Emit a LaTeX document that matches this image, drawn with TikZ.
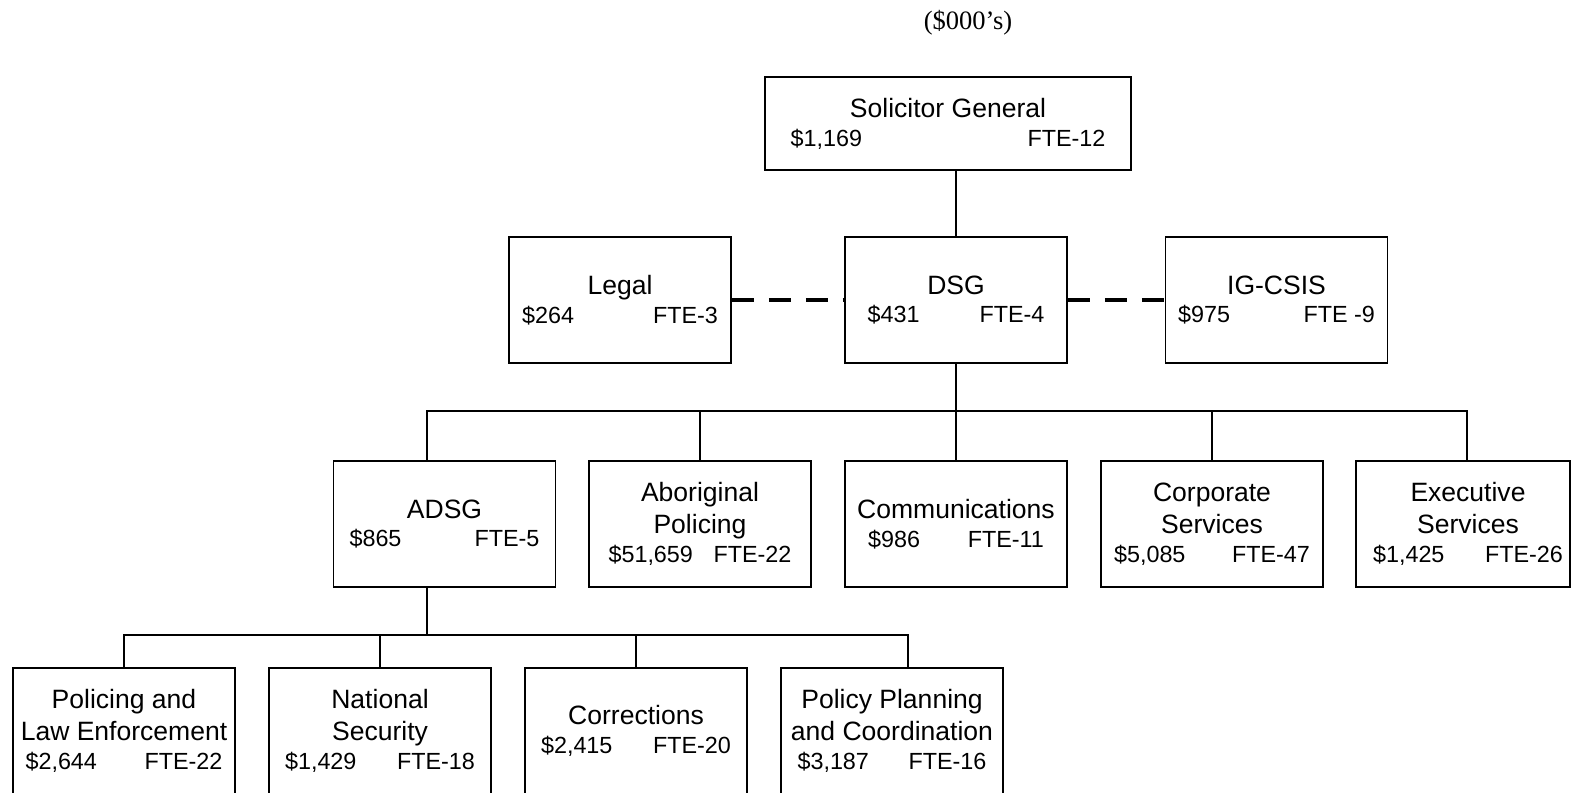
\documentclass[tikz,border=0pt]{standalone}
\usepackage{fontspec}
\setmainfont{Liberation Sans}
\newfontfamily\notefont{Liberation Serif}

\newcommand{\costline}[3]{{\fontsize{13.3}{16.4}\selectfont\makebox[#1]{#2\hfill #3}}}

\begin{document}
\begin{tikzpicture}[
  x=0.02cm, y=-0.02cm,
  box/.style={rectangle, draw, line width=1.1pt, minimum width=4.44cm, minimum height=2.52cm, inner sep=1pt, align=center, font=\fontsize{15.1}{18.1}\selectfont},
  link/.style={line width=1.1pt},
  dashlink/.style={line width=1.9pt, dash pattern=on 0.44cm off 0.3cm}
]
  \useasboundingbox (0,0) rectangle (1573,792);

  \node[font=\notefont\fontsize{15.1}{18}\selectfont] (unit) at (968,23) {(\$000’s)};

  \node[box, minimum width=7.32cm, minimum height=1.86cm] (sg) at (948,123.5) {Solicitor General\\[-1.7pt]\costline{6.3cm}{\$1,169}{FTE-12}};

  \node[box] (legal) at (620,300) {Legal\\[-1.7pt]\costline{3.92cm}{\$264}{FTE-3}};
  \node[box] (dsg) at (956,300) {DSG\\[-1.7pt]\costline{3.54cm}{\$431}{FTE-4}};
  \node[box] (igcsis) at (1276.5,300) {IG-CSIS\\[-1.7pt]\costline{3.94cm}{\$975}{FTE -9}};

  \node[box] (adsg) at (444.5,524) {ADSG\\[-1.7pt]\costline{3.8cm}{\$865}{FTE-5}};
  \node[box] (abor) at (700,524) {Aboriginal\\Policing\\[-1.7pt]\costline{3.66cm}{\$51,659}{FTE-22}};
  \node[box] (comm) at (956,524) {Communications\\[-1.7pt]\costline{3.52cm}{\$986}{FTE-11}};
  \node[box] (corp) at (1212,524) {Corporate\\Services\\[-1.7pt]\costline{3.92cm}{\$5,085}{FTE-47}};
  \node[box, minimum width=4.28cm] (exec) at (1463,524) {\hspace*{0.2cm}Executive\\\hspace*{0.2cm}Services\\[-1.7pt]\hspace*{0.2cm}\costline{3.8cm}{\$1,425}{FTE-26}};

  \node[box] (police) at (124,731) {Policing and\\Law Enforcement\\[-1.7pt]\costline{3.94cm}{\$2,644}{FTE-22}};
  \node[box] (natsec) at (380,731) {National\\Security\\[-1.7pt]\costline{3.8cm}{\$1,429}{FTE-18}};
  \node[box] (corr) at (636,731) {Corrections\\[-1.7pt]\costline{3.8cm}{\$2,415}{FTE-20}};
  \node[box] (policy) at (892,731) {Policy Planning\\and Coordination\\[-1.7pt]\costline{3.78cm}{\$3,187}{FTE-16}};

  \coordinate (bus3) at (0,411);
  \coordinate (bus4) at (0,635);

  \draw[link] (dsg.north) -- (dsg.north |- sg.south);
  \draw[dashlink] (legal) -- (dsg);
  \draw[dashlink] (dsg) -- (igcsis);

  % second row of units under DSG
  \draw[link] (dsg.south) -- (dsg.south |- bus3);
  \draw[link] ([xshift=-0.35cm]adsg.north) |- ([xshift=0.08cm]exec.north |- bus3) -- ([xshift=0.08cm]exec.north);
  \foreach \n in {abor,comm,corp}
    \draw[link] (\n.north) -- (\n.north |- bus3);

  % branches under ADSG
  \draw[link] ([xshift=-0.35cm]adsg.south) -- ([xshift=-0.35cm]adsg.south |- bus4);
  \draw[link] (police.north) |- ([xshift=0.32cm]policy.north |- bus4) -- ([xshift=0.32cm]policy.north);
  \foreach \n in {natsec,corr}
    \draw[link] (\n.north) -- (\n.north |- bus4);
\end{tikzpicture}
\end{document}
